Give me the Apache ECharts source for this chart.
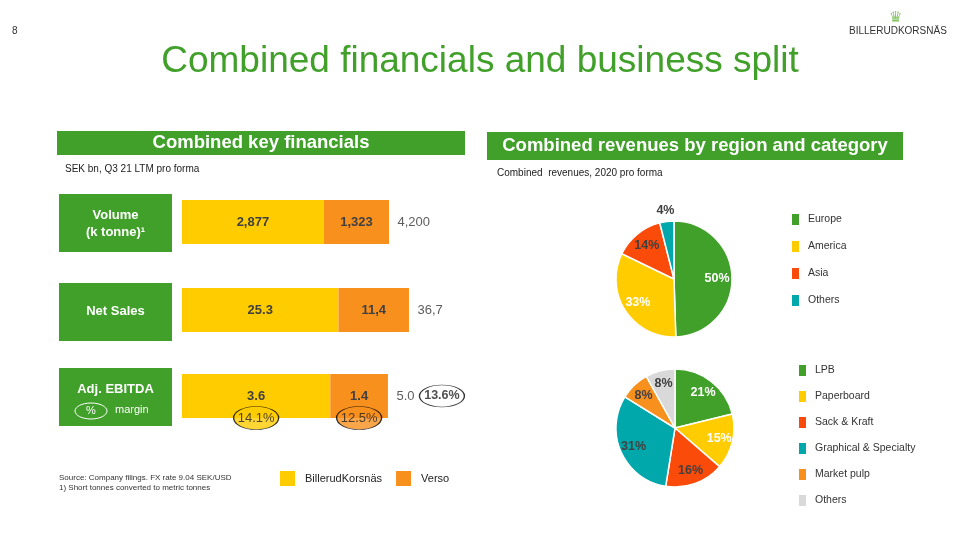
<!DOCTYPE html>
<html>
<head>
<meta charset="utf-8">
<script src="https://cdn.jsdelivr.net/npm/echarts@6/dist/echarts.min.js"></script>
<style>
html,body{margin:0;padding:0;background:#fff;}
#c{width:960px;height:540px;}
</style>
</head>
<body>
<div id="c"></div>
<script>
// ---------- data ----------
const rowLabels = ['Volume', 'Net Sales', 'Adj. EBITDA'];
const billerudValues = [2877, 25.3, 3.6];
const versoValues = [1323, 11.4, 1.4];
const totalValues = [4200, 36.7, 5.0];
const billerudLabels = ['2,877', '25.3', '3.6'];
const versoLabels = ['1,323', '11,4', '1.4'];
const totalLabels = ['4,200', '36,7', '5.0'];
const marginBillerud = '14.1%';
const marginVerso = '12.5%';
const marginTotal = '13.6%';

const regionNames = ['Europe', 'America', 'Asia', 'Others'];
const regionValues = [50, 33, 14, 4];
const categoryNames = ['LPB', 'Paperboard', 'Sack & Kraft', 'Graphical & Specialty', 'Market pulp', 'Others'];
const categoryValues = [21, 15, 16, 31, 8, 8];

// ---------- styles / layout ----------
const GREEN = '#41A02A';
const YELLOW = '#FFCC00';
const ORANGE = '#F8901E';
const RED = '#FA4B0A';
const TEAL = '#00A8AC';
const GREY = '#D9D9D9';
const DARK = '#404040';
const FONT = '"Liberation Sans", Arial, sans-serif';
const CLEAR = 'rgba(0,0,0,0)';

const regionColors = [GREEN, YELLOW, RED, TEAL];
const regionLabelColors = ['#fff', '#fff', DARK, DARK];
const categoryColors = [GREEN, YELLOW, RED, TEAL, ORANGE, GREY];
const categoryLabelColors = ['#fff', '#fff', DARK, DARK, DARK, DARK];

const axisMax = [5072, 40.42, 6.07];
const gridTops = [200, 288, 374];
const BAR_H = 44;

const chart = echarts.init(document.getElementById('c'), null, {renderer: 'canvas'});

const grids = [], xAxes = [], yAxes = [], series = [];
rowLabels.forEach((lab, i) => {
  grids.push({left: 182, width: 250, top: gridTops[i], height: BAR_H, containLabel: false});
  xAxes.push({type: 'value', gridIndex: i, min: 0, max: axisMax[i], show: false});
  yAxes.push({type: 'category', gridIndex: i, data: [lab], show: false});
  series.push({
    name: 'BillerudKorsnäs', type: 'bar', stack: 's' + i, xAxisIndex: i, yAxisIndex: i,
    barWidth: BAR_H, data: [billerudValues[i]], itemStyle: {color: YELLOW},
    label: {show: true, position: 'inside', formatter: () => billerudLabels[i],
      color: DARK, fontWeight: 'bold', fontSize: 13, fontFamily: FONT},
    silent: true, animation: false
  });
  series.push({
    name: 'Verso', type: 'bar', stack: 's' + i, xAxisIndex: i, yAxisIndex: i,
    barWidth: BAR_H, data: [versoValues[i]], itemStyle: {color: ORANGE},
    label: {show: true, position: 'inside', formatter: () => versoLabels[i],
      color: DARK, fontWeight: 'bold', fontSize: 13, fontFamily: FONT},
    silent: true, animation: false
  });
  series.push({
    name: 'total' + i, type: 'scatter', xAxisIndex: i, yAxisIndex: i, clip: false,
    data: [[totalValues[i], 0]], symbolSize: 1, itemStyle: {color: CLEAR},
    label: {show: true, position: 'right', distance: 8, formatter: () => totalLabels[i],
      color: '#333', fontSize: 13, fontFamily: FONT},
    z: 5, silent: true, animation: false
  });
});

// margin ellipses on EBITDA row
const ellLabel = {show: true, position: 'inside', color: '#222', fontSize: 13, fontFamily: FONT};
series.push({
  name: 'mB', type: 'scatter', xAxisIndex: 2, yAxisIndex: 2, clip: false,
  data: [[billerudValues[2] / 2, 0]], symbol: 'circle', symbolSize: [45, 23], symbolOffset: [0, 22],
  itemStyle: {color: YELLOW, borderColor: '#000', borderWidth: 1},
  label: Object.assign({}, ellLabel, {formatter: () => marginBillerud}),
  z: 6, silent: true, animation: false
});
series.push({
  name: 'mV', type: 'scatter', xAxisIndex: 2, yAxisIndex: 2, clip: false,
  data: [[billerudValues[2] + versoValues[2] / 2, 0]], symbol: 'circle', symbolSize: [45, 23], symbolOffset: [0, 22],
  itemStyle: {color: ORANGE, borderColor: '#000', borderWidth: 1},
  label: Object.assign({}, ellLabel, {formatter: () => marginVerso}),
  z: 6, silent: true, animation: false
});
series.push({
  name: 'mT', type: 'scatter', xAxisIndex: 2, yAxisIndex: 2, clip: false,
  data: [[totalValues[2], 0]], symbol: 'circle', symbolSize: [45, 22], symbolOffset: [54, 0],
  itemStyle: {color: '#fff', borderColor: '#000', borderWidth: 1},
  label: Object.assign({}, ellLabel, {formatter: () => marginTotal, fontWeight: 'bold', fontSize: 12.5}),
  z: 6, silent: true, animation: false
});

const pieLabel = {fontWeight: 'bold', fontSize: 12.5, fontFamily: FONT};

// pies: visible sectors
function pieSectors(name, center, r, names, values, colors) {
  return {
    name: name, type: 'pie', center: center, radius: [0, r], startAngle: 90, clockwise: true,
    animation: false, silent: true,
    itemStyle: {borderColor: '#fff', borderWidth: 1.5},
    data: names.map((n, i) => ({name: n, value: values[i], itemStyle: {color: colors[i]}})),
    label: {show: false}, labelLine: {show: false}
  };
}
// transparent ring carrying the percentage labels (places labels further out)
function pieLabels(name, center, r0, r, names, values, labelColors, showIdx) {
  return {
    name: name, type: 'pie', center: center, radius: [r0, r], startAngle: 90, clockwise: true,
    animation: false, silent: true, z: 4, legendHoverLink: false,
    itemStyle: {color: CLEAR, borderWidth: 0},
    data: names.map((n, i) => ({
      name: n, value: values[i],
      label: {show: showIdx(i), color: labelColors[i]}
    })),
    label: Object.assign({show: true, position: 'inside', formatter: p => values[p.dataIndex] + '%'}, pieLabel),
    labelLine: {show: false},
    labelLayout: {hideOverlap: false}
  };
}

series.push(pieSectors('region', [674, 279], 58, regionNames, regionValues, regionColors));
series.push(pieLabels('regionL', [674, 279], 22, 58, regionNames, regionValues, regionLabelColors, i => i < 3));
series.push(pieLabels('regionL2', [674, 279], 56, 76, regionNames, regionValues, regionLabelColors, i => i === 3));

series.push(pieSectors('category', [675, 428], 59, categoryNames, categoryValues, categoryColors));
series.push(pieLabels('categoryL', [675, 428], 26, 59, categoryNames, categoryValues, categoryLabelColors, () => true));

const legendText = {color: '#333', fontSize: 10.5, fontFamily: FONT, padding: [0, 0, 0, 3]};

const graphic = [
  {type: 'text', left: 12, top: 26, style: {text: '8', fill: '#333', font: '10px ' + FONT}},
  {type: 'text', left: 889, top: 11, style: {text: '♛', fill: '#7DC25A', font: '15px "DejaVu Sans"'}},
  {type: 'text', left: 849, top: 26, style: {text: 'BILLERUDKORSNÄS', fill: '#333', font: '10px ' + FONT}},
  {type: 'text', x: 480, y: 62, style: {text: 'Combined financials and business split', fill: GREEN,
    font: '37px ' + FONT, textAlign: 'center', textVerticalAlign: 'middle'}},
  // left header
  {type: 'rect', shape: {x: 57, y: 131, width: 408, height: 24}, style: {fill: GREEN}},
  {type: 'text', x: 261, y: 143, style: {text: 'Combined key financials', fill: '#fff',
    font: 'bold 18.5px ' + FONT, textAlign: 'center', textVerticalAlign: 'middle'}},
  {type: 'text', left: 65, top: 164, style: {text: 'SEK bn, Q3 21 LTM pro forma', fill: '#222', font: '10px ' + FONT}},
  // right header
  {type: 'rect', shape: {x: 487, y: 132, width: 416, height: 28}, style: {fill: GREEN}},
  {type: 'text', x: 695, y: 146, style: {text: 'Combined revenues by region and category', fill: '#fff',
    font: 'bold 18.5px ' + FONT, textAlign: 'center', textVerticalAlign: 'middle'}},
  {type: 'text', left: 497, top: 168, style: {text: 'Combined  revenues, 2020 pro forma', fill: '#222', font: '10px ' + FONT}},
  // row label boxes
  {type: 'rect', shape: {x: 59, y: 194, width: 113, height: 58}, style: {fill: GREEN}},
  {type: 'text', x: 115.5, y: 215, style: {text: 'Volume', fill: '#fff', font: 'bold 13px ' + FONT, textAlign: 'center', textVerticalAlign: 'middle'}},
  {type: 'text', x: 115.5, y: 232, style: {text: '(k tonne)¹', fill: '#fff', font: 'bold 13px ' + FONT, textAlign: 'center', textVerticalAlign: 'middle'}},
  {type: 'rect', shape: {x: 59, y: 283, width: 113, height: 58}, style: {fill: GREEN}},
  {type: 'text', x: 115.5, y: 311, style: {text: 'Net Sales', fill: '#fff', font: 'bold 13px ' + FONT, textAlign: 'center', textVerticalAlign: 'middle'}},
  {type: 'rect', shape: {x: 59, y: 368, width: 113, height: 58}, style: {fill: GREEN}},
  {type: 'text', x: 115.5, y: 389, style: {text: 'Adj. EBITDA', fill: '#fff', font: 'bold 13px ' + FONT, textAlign: 'center', textVerticalAlign: 'middle'}},
  {type: 'ellipse', shape: {cx: 91, cy: 411, rx: 16, ry: 8}, style: {fill: 'none', stroke: '#fff', lineWidth: 1}},
  {type: 'text', x: 91, y: 411, style: {text: '%', fill: '#fff', font: '11px ' + FONT, textAlign: 'center', textVerticalAlign: 'middle'}},
  {type: 'text', x: 115, y: 410, style: {text: 'margin', fill: '#fff', font: '11px ' + FONT, textVerticalAlign: 'middle'}},
  // footnotes
  {type: 'text', left: 59, top: 473, style: {text: 'Source: Company filings. FX rate 9.04 SEK/USD\n1) Short tonnes converted to metric tonnes',
    fill: '#333', font: '8px ' + FONT, lineHeight: 10}}
];

chart.setOption({
  animation: false,
  grid: grids, xAxis: xAxes, yAxis: yAxes, series: series,
  legend: [
    {data: ['BillerudKorsnäs', 'Verso'], left: 280, top: 471, padding: 0, orient: 'horizontal', itemWidth: 15, itemHeight: 15,
      itemGap: 14, icon: 'rect', selectedMode: false,
      textStyle: {color: '#222', fontSize: 11, fontFamily: FONT, padding: [0, 0, 0, 5]}},
    {data: regionNames.map((n, i) => ({name: n, itemStyle: {color: regionColors[i]}})),
      left: 790, top: 212, padding: 0, orient: 'vertical', itemWidth: 9, itemHeight: 13, itemGap: 12, icon: 'rect',
      selectedMode: false, textStyle: legendText},
    {data: categoryNames.map((n, i) => ({name: n, itemStyle: {color: categoryColors[i]}})),
      left: 797, top: 363, padding: 0, orient: 'vertical', itemWidth: 9, itemHeight: 13, itemGap: 11, icon: 'rect',
      selectedMode: false, textStyle: legendText}
  ],
  graphic: graphic
});
</script>
</body>
</html>
